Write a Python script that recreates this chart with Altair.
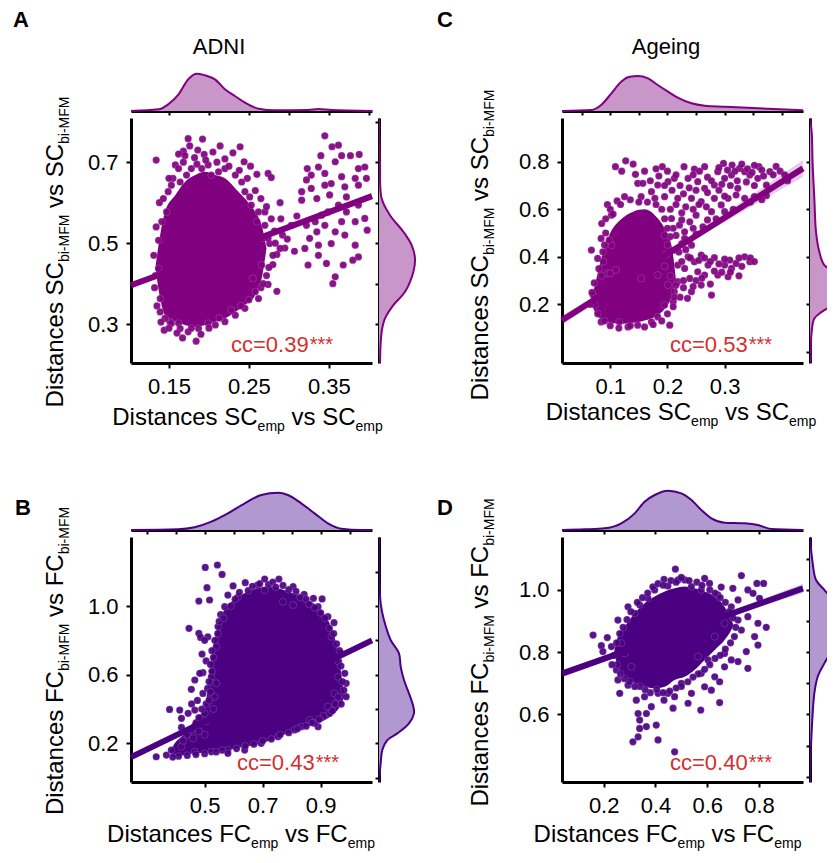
import altair as alt
import pandas as pd

FONT = "Liberation Sans"
PURPLE, INDIGO = "#800080", "#4b0082"
PURPLE_FILL, INDIGO_FILL = "#c996c9", "#b298d0"
RED = "#d23030"

panel_letters = ["A", "B", "C", "D"]
column_titles = ["ADNI", "Ageing"]
cc_values = ["cc=0.39", "cc=0.43", "cc=0.53", "cc=0.40"]

# ---------------- Panel A : ADNI, SC ----------------
A_points = [
    (0.134, 0.705), (0.174, 0.758), (0.192, 0.757), (0.168, 0.727), (0.182, 0.711), (0.170, 0.716),
    (0.194, 0.719), (0.205, 0.725), (0.230, 0.723), (0.239, 0.738), (0.244, 0.701), (0.274, 0.672),
    (0.278, 0.662), (0.289, 0.600), (0.310, 0.567), (0.295, 0.488), (0.307, 0.480), (0.285, 0.472),
    (0.280, 0.447), (0.274, 0.398), (0.285, 0.381), (0.265, 0.390), (0.144, 0.285), (0.167, 0.266),
    (0.184, 0.258), (0.162, 0.302), (0.151, 0.306),
    (0.345, 0.765), (0.354, 0.738), (0.362, 0.742), (0.340, 0.716), (0.366, 0.716), (0.377, 0.716),
    (0.388, 0.719), (0.358, 0.701), (0.323, 0.684), (0.337, 0.688), (0.395, 0.688), (0.328, 0.668),
    (0.345, 0.672), (0.366, 0.664), (0.383, 0.660), (0.322, 0.656), (0.353, 0.647), (0.370, 0.639),
    (0.387, 0.643), (0.397, 0.660), (0.316, 0.606), (0.335, 0.610), (0.351, 0.619), (0.372, 0.614),
    (0.387, 0.594), (0.383, 0.553), (0.366, 0.553), (0.358, 0.528), (0.345, 0.544), (0.333, 0.553),
    (0.326, 0.512), (0.337, 0.495), (0.353, 0.499), (0.370, 0.520), (0.383, 0.495), (0.387, 0.466),
    (0.380, 0.458), (0.368, 0.446), (0.347, 0.450), (0.337, 0.470), (0.324, 0.446), (0.358, 0.417),
    (0.355, 0.400), (0.398, 0.532), (0.320, 0.487), (0.335, 0.528), (0.341, 0.569), (0.362, 0.594),
    (0.349, 0.577), (0.395, 0.561), (0.328, 0.635), (0.345, 0.643), (0.387, 0.684), (0.372, 0.577),
    (0.316, 0.627), (0.322, 0.544),
    (0.137, 0.507), (0.137, 0.437), (0.139, 0.363), (0.149, 0.627), (0.158, 0.693), (0.162, 0.684),
    (0.178, 0.684), (0.199, 0.693), (0.212, 0.676), (0.220, 0.684), (0.233, 0.668), (0.241, 0.651),
    (0.251, 0.614), (0.253, 0.594), (0.262, 0.577), (0.270, 0.544), (0.268, 0.512), (0.276, 0.499),
    (0.141, 0.553), (0.147, 0.577), (0.153, 0.643), (0.255, 0.413), (0.262, 0.363), (0.245, 0.339),
    (0.233, 0.322), (0.220, 0.306), (0.208, 0.298), (0.199, 0.302), (0.187, 0.289), (0.174, 0.281),
    (0.164, 0.289), (0.153, 0.302), (0.145, 0.314), (0.139, 0.330), (0.266, 0.446), (0.260, 0.553),
    (0.245, 0.627), (0.191, 0.684), (0.203, 0.668), (0.172, 0.668), (0.164, 0.651),
    (0.274, 0.512), (0.289, 0.487), (0.303, 0.544), (0.270, 0.577),
]
A_edge_points = [
    (0.155, 0.660), (0.168, 0.700), (0.185, 0.695), (0.196, 0.705), (0.210, 0.700), (0.225, 0.690),
    (0.238, 0.680), (0.248, 0.660), (0.258, 0.630), (0.265, 0.610), (0.272, 0.590), (0.278, 0.560),
    (0.282, 0.530), (0.283, 0.500), (0.280, 0.470), (0.275, 0.440), (0.272, 0.420), (0.268, 0.400),
    (0.258, 0.380), (0.250, 0.360), (0.240, 0.345), (0.228, 0.335), (0.213, 0.315), (0.200, 0.290),
    (0.190, 0.275), (0.178, 0.290), (0.160, 0.278), (0.150, 0.290), (0.140, 0.305), (0.135, 0.345),
    (0.132, 0.390), (0.133, 0.420), (0.131, 0.470), (0.134, 0.540), (0.138, 0.600), (0.143, 0.610),
    (0.150, 0.660), (0.162, 0.720), (0.176, 0.740), (0.186, 0.730), (0.214, 0.740), (0.220, 0.708),
    (0.252, 0.690), (0.260, 0.670), (0.290, 0.560), (0.292, 0.520), (0.298, 0.510),
]
A_core_x = [0.133, 0.139, 0.145, 0.158, 0.170, 0.183, 0.195, 0.208, 0.220, 0.233, 0.245, 0.258, 0.266, 0.272]
A_core_lo = [0.440, 0.363, 0.322, 0.306, 0.298, 0.293, 0.298, 0.306, 0.314, 0.330, 0.347, 0.372, 0.413, 0.487]
A_core_hi = [0.440, 0.520, 0.577, 0.619, 0.651, 0.668, 0.676, 0.668, 0.660, 0.635, 0.610, 0.577, 0.544, 0.487]
A_fit_x = [0.1025, 0.25, 0.404]
A_fit_y = [0.396, 0.503, 0.616]
A_fit_lo = [0.388, 0.500, 0.608]
A_fit_hi = [0.404, 0.506, 0.624]
A_top_x = [0.1025, 0.137, 0.149, 0.162, 0.174, 0.185, 0.195, 0.2075, 0.220, 0.2325, 0.245, 0.262, 0.2825, 0.324, 0.337, 0.353, 0.404]
A_top_d = [0, 5, 20, 50, 95, 112, 107, 95, 65, 45, 25, 7, 2, 3, 6, 3, 0]
A_right_y = [0.809, 0.700, 0.610, 0.569, 0.528, 0.495, 0.462, 0.429, 0.380, 0.347, 0.314, 0.281, 0.204]
A_right_d = [0, 3, 8, 33, 73, 98, 108, 103, 78, 43, 18, 8, 3]

# ---------------- Panel B : ADNI, FC ----------------
B_points = [
    (0.502, 1.225), (0.544, 1.239), (0.560, 1.184), (0.508, 1.107), (0.480, 1.029), (0.517, 1.035),
    (0.446, 0.870), (0.480, 0.841), (0.486, 0.817), (0.491, 0.720), (0.494, 0.612), (0.466, 0.569),
    (0.454, 0.515), (0.494, 0.491), (0.379, 0.398), (0.414, 0.394), (0.420, 0.346), (0.443, 0.375),
    (0.466, 0.394), (0.333, 0.122), (0.368, 0.132), (0.420, 0.293), (0.580, 1.064), (0.598, 1.117),
    (0.640, 1.136), (0.682, 1.122), (0.707, 1.157), (0.756, 1.157), (0.805, 1.113), (0.843, 1.068),
    (0.875, 1.045), (0.905, 1.041), (0.805, 1.006), (0.770, 1.025), (0.707, 1.093), (0.925, 0.938),
    (0.946, 0.903), (0.962, 0.676), (0.988, 0.550), (0.988, 0.472), (0.971, 0.429), (0.931, 0.375),
    (0.891, 0.297), (0.862, 0.336), (0.833, 0.297), (0.523, 0.588), (0.540, 0.763), (0.546, 0.880),
    (0.569, 0.996), (0.615, 1.054), (0.891, 0.996), (0.937, 0.821), (0.960, 0.588), (0.948, 0.491),
    (0.925, 0.414), (0.879, 0.317), (0.810, 0.278), (0.753, 0.239), (0.695, 0.200), (0.638, 0.181),
    (0.580, 0.161), (0.523, 0.151), (0.466, 0.151), (0.420, 0.181), (0.385, 0.161), (0.511, 0.821),
    (0.534, 0.472), (0.500, 0.375), (0.580, 0.142), (0.638, 0.161), (0.971, 0.724), (0.983, 0.608),
    (0.483, 0.608), (0.505, 0.680), (0.475, 0.450), (0.510, 0.520), (0.500, 0.800), (0.455, 0.430),
]
B_edge_points = [
    (0.590, 1.000), (0.605, 1.040), (0.620, 1.080), (0.650, 1.090), (0.665, 1.115), (0.690, 1.130),
    (0.720, 1.125), (0.735, 1.140), (0.745, 1.110), (0.770, 1.120), (0.790, 1.095), (0.815, 1.085),
    (0.830, 1.050), (0.850, 1.040), (0.860, 1.010), (0.880, 0.990), (0.900, 0.960), (0.915, 0.930),
    (0.930, 0.870), (0.945, 0.840), (0.955, 0.780), (0.965, 0.740), (0.970, 0.650), (0.975, 0.560),
    (0.980, 0.510), (0.960, 0.470), (0.950, 0.430), (0.940, 0.390), (0.910, 0.360), (0.895, 0.340),
    (0.870, 0.320), (0.850, 0.300), (0.820, 0.285), (0.790, 0.262), (0.760, 0.250), (0.730, 0.225),
    (0.700, 0.215), (0.670, 0.195), (0.640, 0.185), (0.610, 0.170), (0.560, 0.160), (0.540, 0.150),
    (0.500, 0.140), (0.470, 0.135), (0.440, 0.130), (0.410, 0.125), (0.390, 0.120),
    (0.425, 0.215), (0.440, 0.250), (0.455, 0.280), (0.470, 0.320), (0.480, 0.350), (0.490, 0.400),
    (0.505, 0.430), (0.515, 0.450), (0.520, 0.500), (0.515, 0.560), (0.525, 0.620), (0.520, 0.660),
    (0.530, 0.700), (0.525, 0.740), (0.535, 0.800), (0.545, 0.840), (0.550, 0.910), (0.555, 0.950),
    (0.565, 0.930), (0.540, 0.550), (0.530, 0.400), (0.505, 0.330), (0.480, 0.270), (0.460, 0.230),
    (0.500, 0.250),
]
B_core_x = [0.380, 0.397, 0.431, 0.466, 0.500, 0.529, 0.557, 0.592, 0.626, 0.661, 0.695, 0.730, 0.764, 0.799, 0.833, 0.868, 0.902, 0.925, 0.948, 0.966, 0.977, 0.983]
B_core_lo = [0.150, 0.122, 0.132, 0.142, 0.146, 0.151, 0.157, 0.165, 0.177, 0.186, 0.200, 0.219, 0.243, 0.268, 0.287, 0.307, 0.326, 0.346, 0.375, 0.414, 0.452, 0.490]
B_core_hi = [0.150, 0.200, 0.258, 0.336, 0.414, 0.763, 0.938, 1.025, 1.064, 1.093, 1.109, 1.113, 1.097, 1.078, 1.054, 1.025, 0.977, 0.918, 0.821, 0.666, 0.530, 0.490]
B_fit_x = [0.246, 0.700, 1.077]
B_fit_y = [0.120, 0.491, 0.800]
B_fit_lo = [0.110, 0.488, 0.790]
B_fit_hi = [0.130, 0.494, 0.810]
B_top_x = [0.246, 0.408, 0.465, 0.523, 0.580, 0.638, 0.695, 0.753, 0.787, 0.833, 0.879, 0.925, 0.971, 1.040, 1.077]
B_top_d = [0, 2, 8, 25, 50, 80, 105, 112, 105, 80, 50, 20, 4, 0, 0]
B_right_y = [1.402, 1.016, 0.918, 0.802, 0.724, 0.647, 0.569, 0.491, 0.414, 0.375, 0.317, 0.258, 0.219, 0.161, 0.084, -0.025]
B_right_d = [0, 5, 15, 35, 60, 65, 75, 90, 103, 105, 90, 55, 25, 10, 5, 0]

# ---------------- Panel C : Ageing, SC ----------------
C_points = [
    (0.109, 0.779), (0.127, 0.804), (0.144, 0.747), (0.148, 0.709), (0.157, 0.709), (0.095, 0.620),
    (0.191, 0.779), (0.229, 0.779), (0.247, 0.769), (0.265, 0.779), (0.298, 0.793), (0.313, 0.786),
    (0.326, 0.772), (0.335, 0.758), (0.344, 0.744), (0.360, 0.779), (0.379, 0.758), (0.373, 0.702),
    (0.373, 0.657), (0.358, 0.730), (0.312, 0.744), (0.288, 0.758), (0.300, 0.730), (0.282, 0.702),
    (0.265, 0.688), (0.253, 0.716), (0.236, 0.730), (0.212, 0.730), (0.201, 0.716), (0.183, 0.702),
    (0.172, 0.674), (0.195, 0.653), (0.218, 0.646), (0.242, 0.646), (0.259, 0.632), (0.282, 0.646),
    (0.306, 0.646), (0.335, 0.646), (0.352, 0.653), (0.323, 0.688), (0.250, 0.575), (0.277, 0.590),
    (0.262, 0.526), (0.294, 0.618), (0.239, 0.547), (0.230, 0.477), (0.212, 0.428), (0.067, 0.428),
    (0.078, 0.393), (0.087, 0.421), (0.125, 0.653), (0.102, 0.575), (0.084, 0.477), (0.102, 0.449),
    (0.154, 0.653), (0.178, 0.646), (0.207, 0.561), (0.221, 0.533), (0.242, 0.449), (0.259, 0.407),
    (0.282, 0.396), (0.300, 0.365), (0.312, 0.351), (0.335, 0.400), (0.344, 0.379), (0.320, 0.372),
    (0.309, 0.386), (0.271, 0.365), (0.253, 0.337), (0.230, 0.351), (0.239, 0.309), (0.218, 0.295),
    (0.212, 0.253), (0.242, 0.253), (0.259, 0.281), (0.277, 0.239), (0.265, 0.323), (0.204, 0.112),
    (0.131, 0.105), (0.116, 0.126), (0.084, 0.126), (0.073, 0.197), (0.070, 0.239), (0.148, 0.112),
    (0.172, 0.126), (0.183, 0.147), (0.195, 0.197), (0.210, 0.211), (0.201, 0.281), (0.218, 0.365),
    (0.183, 0.323), (0.154, 0.309), (0.247, 0.379), (0.288, 0.323), (0.306, 0.316), (0.236, 0.400),
]
C_extra_points = [
    (0.200, 0.760), (0.215, 0.745), (0.222, 0.700), (0.238, 0.690), (0.245, 0.745), (0.256, 0.760),
    (0.270, 0.735), (0.277, 0.720), (0.290, 0.775), (0.295, 0.705), (0.305, 0.765), (0.318, 0.760),
    (0.322, 0.720), (0.330, 0.790), (0.340, 0.770), (0.348, 0.755), (0.352, 0.785), (0.365, 0.765),
    (0.368, 0.740), (0.385, 0.745), (0.390, 0.780), (0.397, 0.760), (0.405, 0.745), (0.410, 0.720),
    (0.352, 0.700), (0.338, 0.715), (0.310, 0.700), (0.290, 0.680), (0.270, 0.670), (0.250, 0.680),
    (0.228, 0.665), (0.208, 0.680), (0.195, 0.700), (0.185, 0.740), (0.170, 0.720), (0.160, 0.760),
    (0.140, 0.790), (0.120, 0.760), (0.180, 0.770), (0.300, 0.655), (0.320, 0.660), (0.345, 0.630),
    (0.365, 0.640),
    (0.205, 0.600), (0.215, 0.620), (0.225, 0.585), (0.232, 0.610), (0.245, 0.600), (0.255, 0.620),
    (0.268, 0.610), (0.225, 0.555), (0.210, 0.520), (0.215, 0.490), (0.230, 0.505), (0.245, 0.520),
    (0.250, 0.495), (0.225, 0.455), (0.220, 0.420), (0.200, 0.450), (0.205, 0.485), (0.198, 0.410),
    (0.232, 0.430), (0.285, 0.560), (0.300, 0.590), (0.315, 0.600), (0.270, 0.555),
    (0.225, 0.380), (0.240, 0.395), (0.255, 0.385), (0.265, 0.395), (0.275, 0.380), (0.290, 0.370),
    (0.300, 0.390), (0.325, 0.395), (0.330, 0.360), (0.345, 0.395), (0.352, 0.380), (0.282, 0.340),
    (0.295, 0.335), (0.310, 0.335), (0.325, 0.320), (0.250, 0.300), (0.260, 0.310), (0.228, 0.300),
    (0.228, 0.270), (0.245, 0.275), (0.275, 0.285), (0.235, 0.225), (0.222, 0.230),
    (0.080, 0.350), (0.085, 0.540), (0.092, 0.500), (0.095, 0.330), (0.090, 0.450), (0.100, 0.600),
    (0.112, 0.635), (0.118, 0.620), (0.135, 0.640), (0.150, 0.630), (0.165, 0.630), (0.180, 0.620),
    (0.190, 0.600), (0.195, 0.560), (0.200, 0.520), (0.195, 0.490),
    (0.065, 0.200), (0.068, 0.250), (0.072, 0.290), (0.078, 0.160), (0.090, 0.130), (0.100, 0.110),
    (0.115, 0.100), (0.135, 0.110), (0.160, 0.105), (0.175, 0.115), (0.190, 0.130), (0.200, 0.160),
    (0.210, 0.190), (0.212, 0.230), (0.215, 0.280), (0.205, 0.320), (0.195, 0.360), (0.100, 0.330),
    (0.110, 0.345), (0.085, 0.320), (0.088, 0.380), (0.092, 0.560), (0.098, 0.470), (0.105, 0.580),
]
C_core_x = [0.066, 0.075, 0.085, 0.100, 0.120, 0.140, 0.160, 0.180, 0.195, 0.207, 0.215]
C_core_lo = [0.210, 0.160, 0.135, 0.122, 0.118, 0.122, 0.132, 0.150, 0.180, 0.230, 0.300]
C_core_hi = [0.210, 0.300, 0.400, 0.500, 0.560, 0.590, 0.600, 0.570, 0.520, 0.450, 0.300]
C_fit_x = [0.0156, 0.200, 0.437]
C_fit_y = [0.133, 0.413, 0.772]
C_fit_lo = [0.113, 0.407, 0.737]
C_fit_hi = [0.153, 0.419, 0.807]
C_top_x = [0.0156, 0.067, 0.084, 0.102, 0.119, 0.134, 0.148, 0.166, 0.183, 0.201, 0.218, 0.242, 0.265, 0.300, 0.358, 0.437]
C_top_d = [0, 3, 18, 53, 88, 103, 105, 98, 78, 58, 40, 23, 16, 13, 8, 2]
C_right_y = [0.984, 0.926, 0.786, 0.646, 0.505, 0.421, 0.365, 0.337, 0.295, 0.239, 0.197, 0.168, 0.140, 0.084, -0.028, -0.047]
C_right_d = [0, 5, 8, 13, 18, 28, 43, 75, 100, 110, 70, 35, 13, 5, 2, 2]

# ---------------- Panel D : Ageing, FC ----------------
D_points = [
    (0.159, 0.855), (0.214, 0.847), (0.191, 0.821), (0.197, 0.802), (0.255, 0.903), (0.294, 0.946),
    (0.339, 0.952), (0.371, 0.973), (0.433, 1.034), (0.477, 1.067), (0.487, 1.032), (0.448, 1.013),
    (0.539, 1.011), (0.590, 1.037), (0.609, 1.021), (0.654, 1.009), (0.699, 1.005), (0.732, 1.046),
    (0.757, 1.000), (0.792, 1.021), (0.818, 1.021), (0.777, 0.989), (0.802, 0.973), (0.828, 0.880),
    (0.796, 0.893), (0.757, 0.914), (0.719, 0.903), (0.732, 0.871), (0.783, 0.850), (0.796, 0.823),
    (0.751, 0.802), (0.757, 0.748), (0.719, 0.770), (0.693, 0.775), (0.667, 0.753), (0.629, 0.721),
    (0.648, 0.705), (0.616, 0.678), (0.590, 0.689), (0.577, 0.732), (0.526, 0.636), (0.575, 0.614),
    (0.648, 0.638), (0.468, 0.620), (0.433, 0.646), (0.410, 0.668), (0.384, 0.625), (0.365, 0.603),
    (0.333, 0.603), (0.339, 0.582), (0.339, 0.555), (0.365, 0.561), (0.333, 0.528), (0.313, 0.512),
    (0.403, 0.566), (0.410, 0.518), (0.474, 0.480), (0.255, 0.711), (0.249, 0.743), (0.262, 0.668),
    (0.294, 0.694), (0.326, 0.646), (0.307, 0.753), (0.281, 0.796), (0.268, 0.829), (0.230, 0.818),
    (0.539, 0.668), (0.564, 0.786), (0.629, 0.850), (0.667, 0.893), (0.693, 0.946), (0.719, 0.968),
    (0.641, 0.984), (0.577, 1.000), (0.513, 1.032), (0.397, 1.000), (0.320, 0.925), (0.474, 0.657),
    (0.500, 0.700), (0.448, 0.668), (0.358, 0.657), (0.667, 0.796), (0.603, 0.775),
]
D_edge_points = [
    (0.240, 0.790), (0.250, 0.830), (0.262, 0.860), (0.275, 0.880), (0.290, 0.905), (0.305, 0.930),
    (0.330, 0.960), (0.350, 0.975), (0.370, 0.990), (0.390, 1.010), (0.410, 1.020), (0.430, 1.015),
    (0.460, 1.030), (0.480, 1.025), (0.500, 1.040), (0.530, 1.030), (0.560, 1.025), (0.580, 1.015),
    (0.610, 1.000), (0.630, 0.990), (0.650, 0.975), (0.670, 0.960), (0.685, 0.930), (0.700, 0.910),
    (0.710, 0.880), (0.705, 0.850), (0.690, 0.830), (0.670, 0.810), (0.650, 0.790), (0.630, 0.780),
    (0.610, 0.760), (0.590, 0.745), (0.565, 0.730), (0.545, 0.720), (0.525, 0.705), (0.500, 0.690),
    (0.480, 0.685), (0.455, 0.675), (0.430, 0.670), (0.405, 0.680), (0.380, 0.670), (0.360, 0.680),
    (0.340, 0.690), (0.320, 0.690), (0.300, 0.705), (0.280, 0.715), (0.265, 0.730), (0.252, 0.760),
    (0.232, 0.760),
]
D_core_x = [0.240, 0.255, 0.281, 0.320, 0.358, 0.397, 0.436, 0.474, 0.513, 0.551, 0.590, 0.629, 0.667, 0.693, 0.702]
D_core_lo = [0.800, 0.753, 0.721, 0.700, 0.689, 0.684, 0.689, 0.711, 0.721, 0.743, 0.775, 0.807, 0.839, 0.871, 0.887]
D_core_hi = [0.800, 0.850, 0.882, 0.925, 0.957, 0.979, 0.995, 1.005, 1.011, 1.005, 0.995, 0.979, 0.946, 0.903, 0.887]
D_fit_x = [0.039, 0.500, 0.970]
D_fit_y = [0.731, 0.867, 1.005]
D_fit_lo = [0.719, 0.863, 0.990]
D_fit_hi = [0.743, 0.871, 1.020]
D_top_x = [0.039, 0.127, 0.204, 0.268, 0.320, 0.358, 0.397, 0.448, 0.500, 0.539, 0.577, 0.616, 0.667, 0.744, 0.796, 0.847, 0.970]
D_top_d = [0, 2, 5, 20, 50, 85, 105, 118, 110, 90, 60, 35, 22, 20, 15, 3, 0]
D_right_y = [1.170, 1.086, 1.032, 1.000, 0.968, 0.925, 0.882, 0.850, 0.818, 0.764, 0.721, 0.668, 0.603, 0.496, 0.383]
D_right_d = [0, 8, 18, 43, 68, 90, 100, 90, 73, 43, 23, 13, 8, 3, 0]

# ---------------- layout helpers ----------------
W, H, MT, GAP = 241, 245, 40, 7
COL_GAP_W, ROW_GAP_H = 129, 113

CW = {'D': 722, 'i': 222, 's': 500, 't': 278, 'a': 556, 'n': 556, 'c': 500, 'e': 556, ' ': 278,
      'S': 667, 'C': 722, 'F': 611, 'v': 500, 'b': 556, '-': 333, 'M': 833, 'm': 833, 'p': 556,
      '=': 584, '.': 278, '*': 389}


def tw(s, size):
    return sum(CW.get(ch, 556) for ch in s) * size / 1000.0


def text_layer(text, x, y, size, color="black", angle=0, weight="normal", align="left"):
    return alt.Chart(alt.InlineData(values=[{"k": 1}])).mark_text(
        text=text, font=FONT, fontSize=size, color=color, angle=angle,
        fontWeight=weight, align=align, baseline="alphabetic"
    ).encode(x=alt.value(x), y=alt.value(y))


def blank(w, h):
    return alt.Chart(alt.InlineData(values=[{"k": 1}])).mark_point(opacity=0).encode(
        x=alt.value(0), y=alt.value(0)).properties(width=w, height=h)


def title_parts(kind, sub):
    return [("Distances " + kind, 24, 0, 0), (sub, 14, 6, 0),
            ("vs " + kind, 24, 0, tw(" ", 24)), (sub, 14, 6, 0)]


def seg_x(parts, cx, by):
    total = sum(tw(t, s) + pre for t, s, dy, pre in parts)
    x = cx - total / 2
    out = []
    for t, s, dy, pre in parts:
        x += pre
        out.append(text_layer(t, x, by + dy, s))
        x += tw(t, s)
    return out


def seg_y(parts, cy, bx):
    total = sum(tw(t, s) + pre for t, s, dy, pre in parts)
    y = cy + total / 2
    out = []
    for t, s, dy, pre in parts:
        y -= pre
        out.append(text_layer(t, bx + dy, y, s, angle=270))
        y -= tw(t, s)
    return out


def axis_main(values, fmt, orient):
    return alt.Axis(values=values, format=fmt, orient=orient, title=None, grid=False,
                    labelFontSize=22, labelFont=FONT, labelColor="black",
                    domainColor="black", domainWidth=3, tickColor="black",
                    tickWidth=2, tickSize=5, labelPadding=8, labelFlush=False,
                    labelOverlap=False)


def axis_marg(values, orient):
    return alt.Axis(values=values, orient=orient, title=None, grid=False, labels=False,
                    domainColor="black", domainWidth=3, tickColor="black",
                    tickWidth=2, tickSize=4)


def main_chart(p):
    xs = alt.Scale(domain=p["xdom"], nice=False, zero=False)
    ys = alt.Scale(domain=p["ydom"], nice=False, zero=False)
    xa = axis_main(p["xt"], p["xf"], "bottom")
    ya = axis_main(p["yt"], p["yf"], "left")

    def X(f):
        return alt.X(f, type="quantitative", scale=xs, axis=xa)

    def Y(f):
        return alt.Y(f, type="quantitative", scale=ys, axis=ya)

    layers = []
    for cx, clo, chi in p["cores"]:
        df = pd.DataFrame({"x": cx, "lo": clo, "hi": chi})
        layers.append(alt.Chart(df).mark_area(color=p["col"], interpolate="monotone")
                      .encode(x=X("x"), y=Y("lo"), y2=alt.Y2("hi")))
    pts = pd.DataFrame(p["pts"], columns=["x", "y"])
    layers.append(alt.Chart(pts).mark_circle(size=52, color=p["col"], opacity=0.92,
                                              stroke="white", strokeWidth=0.5, strokeOpacity=0.35)
                  .encode(x=X("x"), y=Y("y")))
    fx, fy, flo, fhi = p["fit"]
    fit = pd.DataFrame({"x": fx, "y": fy, "lo": flo, "hi": fhi})
    layers.append(alt.Chart(fit).mark_area(color=p["col"], opacity=0.2)
                  .encode(x=X("x"), y=Y("lo"), y2=alt.Y2("hi")))
    layers.append(alt.Chart(fit).mark_line(color=p["col"], strokeWidth=6)
                  .encode(x=X("x"), y=Y("y")))
    t = p["txt"]
    layers.append(text_layer(p["letter"], t["letter"][0], t["letter"][1], 22, weight="bold"))
    if p.get("coltitle"):
        layers.append(text_layer(p["coltitle"], t["coltitle"][0], t["coltitle"][1], 22, align="center"))
    layers += seg_y(title_parts(p["kind"], "bi-MFM"), t["ytitle"][0], t["ytitle"][1])
    layers += seg_x(title_parts(p["kind"], "emp"), t["xtitle"][0], t["xtitle"][1])
    ccx, ccy = t["cc"]
    layers.append(text_layer(p["cc"], ccx, ccy, 22, color=RED))
    layers.append(text_layer("***", ccx + tw(p["cc"], 22) + 1, ccy - 1, 20, color=RED))
    return alt.layer(*layers).properties(width=W, height=H)


def top_chart(p):
    xs = alt.Scale(domain=p["xdom"], nice=False, zero=False)
    ys = alt.Scale(domain=[0, 120], nice=False)
    xa = axis_marg(p["topt"], "bottom")
    tx, td = p["top"]
    df = pd.DataFrame({"x": tx, "d": td})
    area = alt.Chart(df).mark_area(color=p["fill"], interpolate="monotone").encode(
        x=alt.X("x:Q", scale=xs, axis=xa), y=alt.Y("d:Q", scale=ys, axis=None))
    line = alt.Chart(df).mark_line(color=p["col"], strokeWidth=2, interpolate="monotone").encode(
        x=alt.X("x:Q", scale=xs, axis=xa), y=alt.Y("d:Q", scale=ys, axis=None))
    return alt.layer(area, line).properties(width=W, height=MT)


def right_chart(p):
    ys = alt.Scale(domain=p["ydom"], nice=False, zero=False)
    xs = alt.Scale(domain=[0, 3 * p["rw"]], nice=False)
    ya = axis_marg(p["rightt"], "left")
    ry, rd = p["right"]
    df = pd.DataFrame({"y": ry, "d": rd})
    area = alt.Chart(df).mark_area(color=p["fill"], orient="horizontal",
                                   interpolate="catmull-rom", clip=True).encode(
        y=alt.Y("y:Q", scale=ys, axis=ya), x=alt.X("d:Q", scale=xs, axis=None))
    line = alt.Chart(df).mark_line(color=p["col"], strokeWidth=2,
                                   interpolate="catmull-rom", clip=True).encode(
        y=alt.Y("y:Q", scale=ys, axis=ya), x=alt.X("d:Q", scale=xs, axis=None),
        order=alt.Order("y:Q"))
    return alt.layer(area, line).properties(width=p["rw"], height=H)


P_A = dict(col=PURPLE, fill=PURPLE_FILL, kind="SC", letter=panel_letters[0], coltitle=column_titles[0],
           cc=cc_values[0], xdom=[0.1025, 0.404], ydom=[0.204, 0.809],
           xt=[0.15, 0.25, 0.35], xf=".2f", yt=[0.3, 0.5, 0.7], yf=".1f",
           topt=[0.15, 0.20, 0.25, 0.30, 0.35, 0.40], rightt=[0.3, 0.4, 0.5, 0.6, 0.7, 0.8],
           pts=A_points + A_edge_points, cores=[(A_core_x, A_core_lo, A_core_hi)],
           fit=(A_fit_x, A_fit_y, A_fit_lo, A_fit_hi), top=(A_top_x, A_top_d),
           right=(A_right_y, A_right_d), rw=40,
           txt=dict(letter=(-118, -91), coltitle=(88, -64), ytitle=(134, -68), xtitle=(116.5, 307), cc=(100, 234)))
P_B = dict(col=INDIGO, fill=INDIGO_FILL, kind="FC", letter=panel_letters[1],
           cc=cc_values[1], xdom=[0.246, 1.077], ydom=[-0.025, 1.402],
           xt=[0.5, 0.7, 0.9], xf=".1f", yt=[0.2, 0.6, 1.0], yf=".1f",
           topt=[0.3, 0.4, 0.5, 0.6, 0.7, 0.8, 0.9, 1.0], rightt=[0.0, 0.2, 0.4, 0.6, 0.8, 1.0, 1.2],
           pts=B_points + B_edge_points, cores=[(B_core_x, B_core_lo, B_core_hi)],
           fit=(B_fit_x, B_fit_y, B_fit_lo, B_fit_hi), top=(B_top_x, B_top_d),
           right=(B_right_y, B_right_d), rw=40,
           txt=dict(letter=(-116, -22), ytitle=(124, -68), xtitle=(110, 305), cc=(106, 233)))
P_C = dict(col=PURPLE, fill=PURPLE_FILL, kind="SC", letter=panel_letters[2], coltitle=column_titles[1],
           cc=cc_values[2], xdom=[0.0156, 0.437], ydom=[-0.047, 0.984],
           xt=[0.1, 0.2, 0.3], xf=".1f", yt=[0.2, 0.4, 0.6, 0.8], yf=".1f",
           topt=[0.05, 0.10, 0.15, 0.20, 0.25, 0.30, 0.35, 0.40], rightt=[0.0, 0.2, 0.4, 0.6, 0.8],
           pts=C_points + C_extra_points, cores=[(C_core_x, C_core_lo, C_core_hi)],
           fit=(C_fit_x, C_fit_y, C_fit_lo, C_fit_hi), top=(C_top_x, C_top_d),
           right=(C_right_y, C_right_d), rw=17,
           txt=dict(letter=(-125, -91), coltitle=(104, -64), ytitle=(127, -74), xtitle=(119, 302), cc=(108, 234)))
P_D = dict(col=INDIGO, fill=INDIGO_FILL, kind="FC", letter=panel_letters[3],
           cc=cc_values[3], xdom=[0.039, 0.970], ydom=[0.383, 1.170],
           xt=[0.2, 0.4, 0.6, 0.8], xf=".1f", yt=[0.6, 0.8, 1.0], yf=".1f",
           topt=[0.2, 0.4, 0.6, 0.8], rightt=[0.4, 0.5, 0.6, 0.7, 0.8, 0.9, 1.0, 1.1],
           pts=D_points + D_edge_points, cores=[(D_core_x, D_core_lo, D_core_hi)],
           fit=(D_fit_x, D_fit_y, D_fit_lo, D_fit_hi), top=(D_top_x, D_top_d),
           right=(D_right_y, D_right_d), rw=17,
           txt=dict(letter=(-125, -22), ytitle=(115.5, -74), xtitle=(105.5, 305), cc=(108, 233)))

# 5 x 5 grid: [main | right marginal | gap | main | right marginal], rows [top | main | gap | top | main]
cells = [
    top_chart(P_A), blank(40, MT), blank(COL_GAP_W, MT), top_chart(P_C), blank(17, MT),
    main_chart(P_A), right_chart(P_A), blank(COL_GAP_W, H), main_chart(P_C), right_chart(P_C),
    blank(W, ROW_GAP_H), blank(40, ROW_GAP_H), blank(COL_GAP_W, ROW_GAP_H), blank(W, ROW_GAP_H), blank(17, ROW_GAP_H),
    top_chart(P_B), blank(40, MT), blank(COL_GAP_W, MT), top_chart(P_D), blank(17, MT),
    main_chart(P_B), right_chart(P_B), blank(COL_GAP_W, H), main_chart(P_D), right_chart(P_D),
]

chart = alt.concat(*cells, columns=5, spacing=GAP, bounds="flush").properties(
    padding={"left": 5, "top": 1, "right": 0, "bottom": 0}
).configure_view(strokeWidth=0)

chart.save("out.html", embed_options={"renderer": "svg", "actions": False})
